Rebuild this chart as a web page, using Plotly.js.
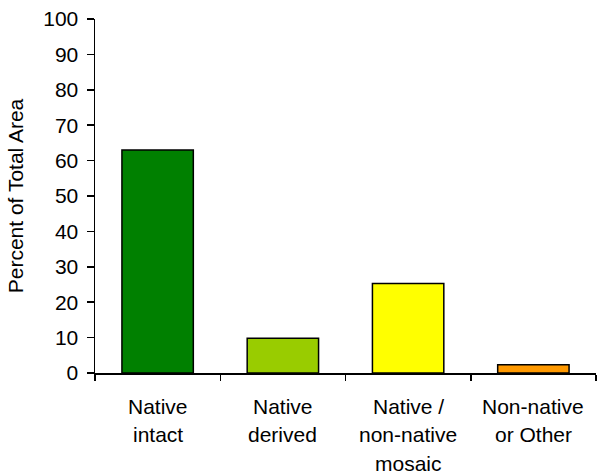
<!DOCTYPE html>
<html>
<head>
<meta charset="utf-8">
<script src="https://cdn.plot.ly/plotly-3.0.1.min.js"></script>
<style>html,body{margin:0;padding:0;background:#fff;}#chart{width:597px;height:476px;}</style>
</head>
<body>
<div id="chart"></div>
<script>
const categories = ["Native intact", "Native derived", "Native / non-native mosaic", "Non-native or Other"];
const labelLines = [["Native", "intact"], ["Native", "derived"], ["Native /", "non-native", "mosaic"], ["Non-native", "or Other"]];
const values = [63, 9.8, 25.3, 2.3];
const colors = ["#008000", "#99cc00", "#ffff00", "#ff9900"];
const yTicks = [0, 10, 20, 30, 40, 50, 60, 70, 80, 90, 100];

const FONT = "Arial, 'Liberation Sans', sans-serif";
const FS = 21;

const annotations = [];
labelLines.forEach((lines, i) => {
  lines.forEach((ln, j) => {
    annotations.push({
      x: categories[i], y: 0, xref: "x", yref: "y",
      text: ln, showarrow: false,
      xanchor: "center", yanchor: "middle",
      yshift: -33 - j * 28.5,
      font: {family: FONT, size: FS, color: "#000"}
    });
  });
});

const trace = {
  type: "bar",
  x: categories,
  y: values,
  marker: {color: colors, line: {color: "#000", width: 1.5}},
  width: 0.57,
  hoverinfo: "none"
};

const layout = {
  width: 597, height: 476,
  margin: {l: 95, r: 1, t: 19, b: 103},
  paper_bgcolor: "#fff", plot_bgcolor: "#fff",
  showlegend: false,
  font: {family: FONT, size: FS, color: "#000"},
  xaxis: {
    type: "category",
    range: [-0.5, 3.5],
    showticklabels: false,
    ticks: "outside", tickson: "boundaries", ticklen: 6, tickwidth: 1.5, tickcolor: "#000",
    showline: true, linecolor: "#000", linewidth: 1.5,
    showgrid: false, zeroline: false, fixedrange: true
  },
  yaxis: {
    range: [0, 100],
    tickvals: yTicks,
    ticktext: yTicks.map(String),
    ticks: "outside", ticklen: 7, tickwidth: 1.5, tickcolor: "#000",
    ticklabelstandoff: 4,
    showline: true, linecolor: "#000", linewidth: 1.5,
    showgrid: false, zeroline: false, fixedrange: true,
    tickfont: {family: FONT, size: FS, color: "#000"},
    title: {text: "Percent of Total Area", font: {family: FONT, size: FS, color: "#000"}, standoff: 14}
  },
  annotations: annotations
};

Plotly.newPlot("chart", [trace], layout, {displayModeBar: false, staticPlot: true});
</script>
</body>
</html>
